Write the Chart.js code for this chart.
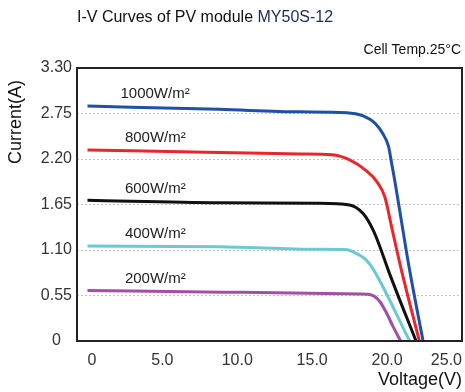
<!DOCTYPE html>
<html>
<head>
<meta charset="utf-8">
<script src="https://cdn.jsdelivr.net/npm/chart.js"></script>
<style>
  html, body { margin: 0; padding: 0; background: #fff; }
  #wrap { width: 465px; height: 392px; }
</style>
</head>
<body>
<div id="wrap"><canvas id="iv-chart" width="465" height="392"></canvas></div>
<script>
// --- Данные ---
const irradiance = ['1000W/m²', '800W/m²', '600W/m²', '400W/m²', '200W/m²'];
const lineColors = ['#1f4fa6', '#e8262c', '#111111', '#6cc9d4', '#a34fa8'];

const volt1000 = [0, 8.8, 14.2, 17.3, 18.4, 19.2, 19.7, 20.1, 20.3, 20.5, 21.5, 22.4];
const amp1000  = [2.84, 2.80, 2.77, 2.76, 2.72, 2.63, 2.51, 2.35, 2.15, 1.95, 0.86, 0];

const volt800 = [0, 8.8, 14.2, 16.3, 17.5, 18.6, 19.3, 19.85, 20.3, 20.9, 22.15];
const amp800  = [2.31, 2.28, 2.26, 2.25, 2.19, 2.06, 1.93, 1.74, 1.38, 0.90, 0];

const volt600 = [0, 8.8, 15.4, 17.5, 18.4, 19.07, 19.52, 20.07, 21.93];
const amp600  = [1.70, 1.67, 1.665, 1.645, 1.54, 1.34, 1.14, 0.86, 0];

const volt400 = [0, 8.8, 15.4, 17.2, 17.7, 18.6, 19.1, 21.5];
const amp400  = [1.148, 1.14, 1.108, 1.105, 1.08, 0.98, 0.86, 0];

const volt200 = [0, 9, 18.2, 18.96, 19.52, 19.97, 20.4, 20.9];
const amp200  = [0.61, 0.59, 0.568, 0.556, 0.475, 0.335, 0.173, 0];

const voltages = [volt1000, volt800, volt600, volt400, volt200];
const currents = [amp1000, amp800, amp600, amp400, amp200];

const xTicks = [0, 5, 10, 15, 20, 25];
const yTicks = [0, 0.55, 1.10, 1.65, 2.20, 2.75, 3.30];

const FONT = '"Liberation Sans", Arial, Helvetica, sans-serif';

// --- Подписи, рамка, заголовки ---
const textPlugin = {
    id: 'ivText',
    afterDraw(chart) {
        const { ctx, chartArea: a, scales: { x, y } } = chart;
        ctx.save();

        // рамка графика
        ctx.strokeStyle = '#222';
        ctx.lineWidth = 2;
        ctx.strokeRect(a.left, a.top, a.right - a.left, a.bottom - a.top);

        // заголовок
        ctx.textBaseline = 'middle';
        ctx.textAlign = 'left';
        ctx.font = '16px ' + FONT;
        ctx.fillStyle = '#111';
        const part1 = 'I-V Curves of PV module ';
        ctx.fillText(part1, 77, 18);
        ctx.fillStyle = '#1c2a55';
        ctx.fillText('MY50S-12', 77 + ctx.measureText(part1).width, 18);

        // температура
        ctx.fillStyle = '#111';
        ctx.font = '14px ' + FONT;
        ctx.textAlign = 'right';
        ctx.fillText('Cell Temp.25°C', 461, 50);

        // подпись оси X
        ctx.font = '18px ' + FONT;
        ctx.fillText('Voltage(V)', 462, 380);

        // подпись оси Y
        ctx.translate(16, 122);
        ctx.rotate(-Math.PI / 2);
        ctx.textAlign = 'center';
        ctx.fillText('Current(A)', 0, 0);
        ctx.restore();

        // подписи кривых
        ctx.save();
        ctx.font = '15px ' + FONT;
        ctx.fillStyle = '#222';
        ctx.textBaseline = 'middle';
        ctx.textAlign = 'left';
        irradiance.forEach((label, i) => {
            const px = x.getPixelForValue(i === 0 ? 2.2 : 2.5);
            const py = y.getPixelForValue(currents[i][0]) - 12;
            ctx.fillText(label, px, py);
        });
        ctx.restore();
    }
};

const datasets = irradiance.map((label, i) => ({
    label,
    data: voltages[i].map((v, k) => ({ x: v, y: currents[i][k] })),
    borderColor: lineColors[i],
    borderWidth: 3,
    pointRadius: 0,
    cubicInterpolationMode: 'monotone',
    fill: false
}));

Chart.defaults.font.family = FONT;

new Chart(document.getElementById('iv-chart'), {
    type: 'line',
    data: { datasets },
    options: {
        responsive: false,
        animation: false,
        layout: { padding: { top: 68, right: 3, left: 0, bottom: 0 } },
        plugins: { legend: { display: false }, tooltip: { enabled: false } },
        scales: {
            x: {
                type: 'linear',
                min: -0.7,
                max: 25,
                afterBuildTicks: s => { s.ticks = xTicks.map(v => ({ value: v })); },
                afterFit: s => { s.height = 51; s.paddingLeft = 0; s.paddingRight = 0; },
                grid: { display: false },
                border: { display: false },
                ticks: {
                    color: '#333',
                    font: { size: 16 },
                    padding: 2,
                    align: 'inner',
                    maxRotation: 0,
                    autoSkip: false,
                    callback: v => v === 0 ? '0' : v.toFixed(1)
                }
            },
            y: {
                min: 0,
                max: 3.3,
                afterBuildTicks: s => { s.ticks = yTicks.map(v => ({ value: v })); },
                afterFit: s => { s.width = 77; s.paddingTop = 0; s.paddingBottom = 0; },
                grid: { color: '#c4c4c4', lineWidth: 1, drawTicks: false },
                border: { display: false, dash: [2, 2] },
                ticks: {
                    color: '#333',
                    font: { size: 16 },
                    padding: 5,
                    crossAlign: 'center',
                    autoSkip: false,
                    callback: v => v === 0 ? '0' : v.toFixed(2)
                }
            }
        }
    },
    plugins: [textPlugin]
});
</script>
</body>
</html>
